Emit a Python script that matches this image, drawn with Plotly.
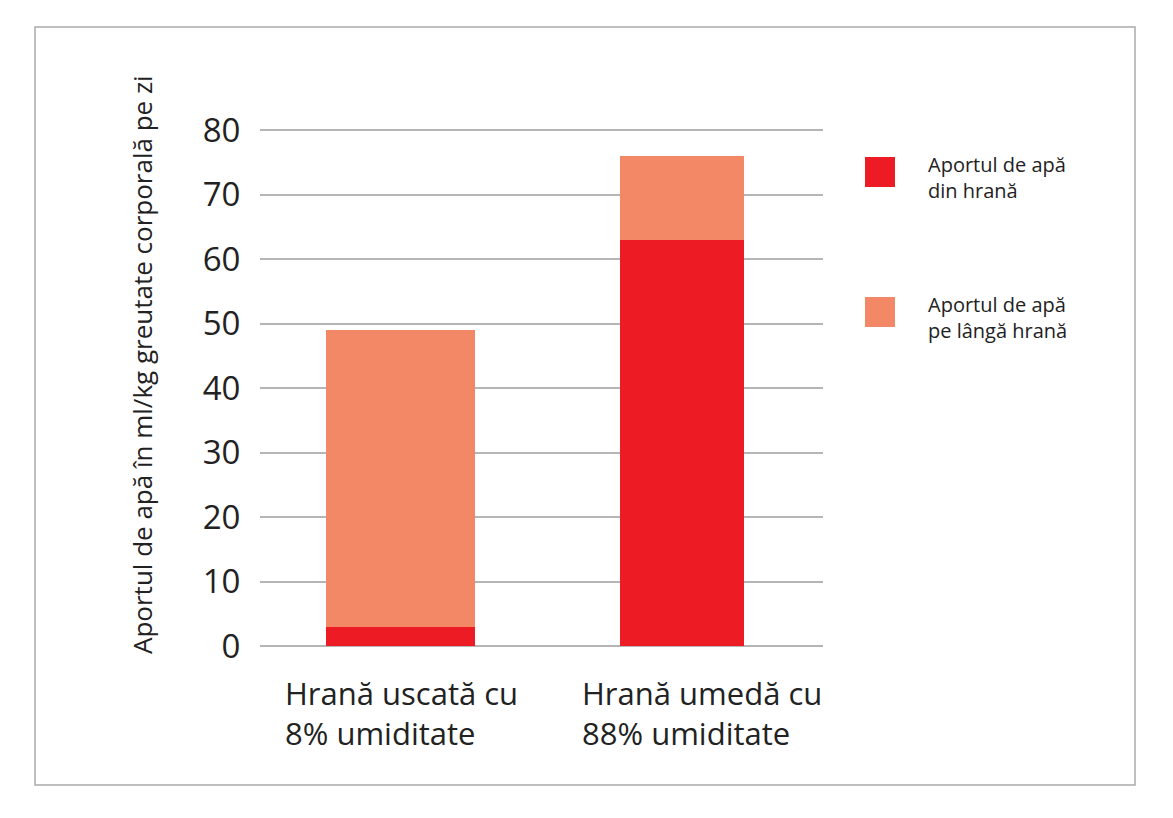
import plotly.graph_objects as go

categories = ["Hrană uscată cu<br>8% umiditate", "Hrană umedă cu<br>88% umiditate"]
from_food = [3, 63]
beside_food = [46, 13]
series_names = ["Aportul de apă<br>din hrană", "Aportul de apă<br>pe lângă hrană"]
colors = ["#ED1C24", "#F38866"]
widths = [0.53, 0.44]
y_title = "Aportul de apă în ml/kg greutate corporală pe zi"

fig = go.Figure()
for vals, name, c in zip([from_food, beside_food], series_names, colors):
    fig.add_bar(x=[0, 1], y=vals, name=name, marker_color=c, width=widths,
                marker_line_width=0, showlegend=False)

W, H = 1173, 818
S = 8  # page offset compensation
l, r, t, b = 260 - S, 350 + S, 130 - S, 172 + S
fig.update_layout(
    width=W, height=H, barmode="stack", plot_bgcolor="white", paper_bgcolor="white",
    margin=dict(l=l, r=r, t=t, b=b),
    font=dict(family="DejaVu Sans", color="#222"),
    xaxis=dict(range=[-0.5, 1.5], showticklabels=False, showgrid=False, zeroline=False),
    yaxis=dict(range=[0, 80], dtick=10, showgrid=True, gridcolor="#b5b5b5", gridwidth=2,
               zeroline=False, tickfont=dict(size=33, family="Open Sans"), ticklen=0,
               ticks="outside", tickcolor="white", ticklabelstandoff=12),
)
pw, ph = W - l - r, H - t - b
def fx(xp): return (xp - S - l) / pw
def fy(yp): return (H - b - (yp - S)) / ph
for yy in [0, 1]:
    fig.add_shape(type="line", xref="paper", yref="paper", x0=0, x1=1, y0=yy, y1=yy,
                  line=dict(color="#b5b5b5", width=2), layer="below")
fig.add_shape(type="rect", xref="paper", yref="paper",
              x0=fx(35), x1=fx(1135), y0=fy(785), y1=fy(27),
              line=dict(color="#aaa", width=1.5))
for cat, xpix in zip(categories, [283, 580]):
    fig.add_annotation(text=cat, xref="paper", yref="paper", x=fx(xpix), y=fy(670),
                       xanchor="left", yanchor="top", align="left", showarrow=False,
                       font=dict(size=31, family="Open Sans"))
fig.add_annotation(text=y_title, xref="paper", yref="paper", x=fx(122), y=fy(365),
                   textangle=-90, showarrow=False, font=dict(size=26, family="Open Sans"))
for name, c, ytop in zip(series_names, colors, [157, 297]):
    fig.add_shape(type="rect", xref="paper", yref="paper",
                  x0=fx(865), x1=fx(895), y0=fy(ytop + 30), y1=fy(ytop),
                  fillcolor=c, line_width=0)
    fig.add_annotation(text=name, xref="paper", yref="paper", x=fx(926), y=fy(ytop - 8),
                       xanchor="left", yanchor="top", align="left", showarrow=False,
                       font=dict(size=20, family="Open Sans"))
fig.write_html("out.html")
